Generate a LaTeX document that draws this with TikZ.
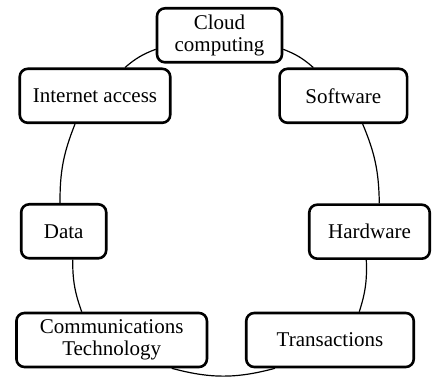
\documentclass[tikz,border=0pt]{standalone}
\usepackage{fontspec}
\setmainfont{Liberation Serif}
\begin{document}
\begin{tikzpicture}[x=1pt,y=-1pt,
  box/.style={draw, line width=2.6pt, rounded corners=8pt, fill=white,
    align=center, minimum height=54pt, inner sep=2pt,
    font=\fontsize{21}{22.5}\selectfont},
  link/.style={line width=1.2pt}]
\useasboundingbox (0,0) rectangle (432,377);

% the seven topics
\node[box, minimum width=125pt]   (cloud) at (219.5,35.3) {Cloud\\computing};
\node[box, minimum width=150.5pt] (inet)  at (95,95.8)    {Internet access};
\node[box, minimum width=127.5pt] (soft)  at (343.3,95.8) {Software};
\node[box, minimum width=85pt]    (data)  at (63.7,231.3) {Data};
\node[box, minimum width=120.5pt] (hard)  at (369.5,231.7){Hardware};
\node[box, minimum width=190.5pt] (comm)  at (111.7,340)  {Communications\\Technology};
\node[box, minimum width=167.5pt] (trans) at (330,340)    {Transactions};

% ring of curved links between neighbours
\draw[link] ([yshift=-14pt]cloud.west) to[bend right=10] ([xshift=30pt]inet.north);
\draw[link] ([yshift=-14pt]cloud.east) to[bend left=10] ([xshift=-30pt]soft.north);
\draw[link] ([xshift=-20pt]inet.south) to[bend right=11] ([xshift=-3.7pt]data.north);
\draw[link] ([xshift=19.4pt]soft.south) to[bend left=11] ([xshift=9.8pt]hard.north);
\draw[link] ([xshift=9pt]data.south) to[bend right=10] ([xshift=-30pt]comm.north);
\draw[link] ([xshift=-3.2pt]hard.south) to[bend left=10] ([xshift=29.3pt]trans.north);
\draw[link] ([xshift=60pt]comm.south) to[bend right=15] ([xshift=-55pt]trans.south);
\end{tikzpicture}
\end{document}
